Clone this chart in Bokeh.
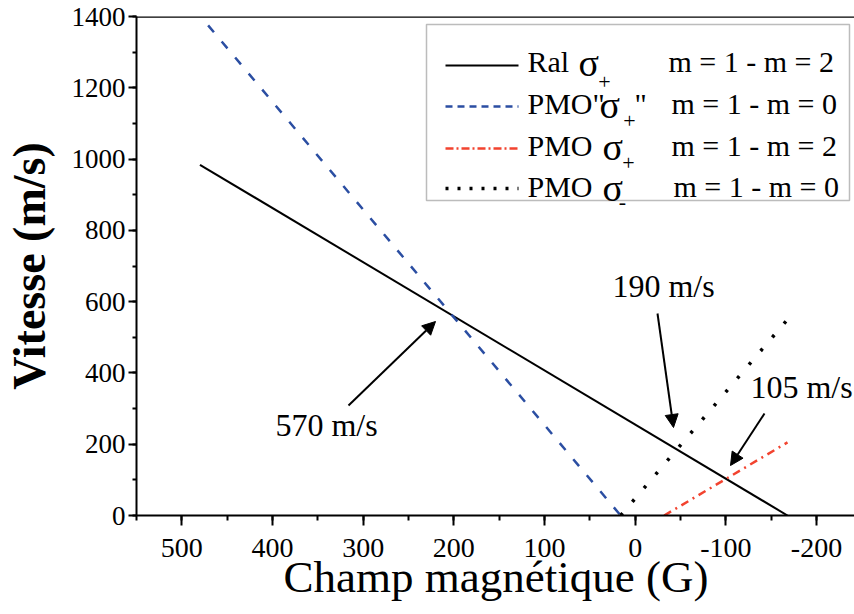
from bokeh.plotting import figure
from bokeh.models import (Range1d, SingleIntervalTicker, Label, Arrow,
                          NormalHead, BoxAnnotation, Span)
from bokeh.embed import file_html
from bokeh.resources import INLINE

# ---------------- data ----------------
ral_x = [480, -168]
ral_y = [984, 0]
pmo_q_x = [471, 16]        # PMO "sigma+"  m=1 - m=0
pmo_q_y = [1375, 0]
pmo_p_x = [-32, -168]      # PMO sigma+  m=1 - m=2
pmo_p_y = [0, 205]
pmo_m_x = [16, -170]       # PMO sigma-  m=1 - m=0
pmo_m_y = [0, 556]

ann_text = ["570 m/s", "190 m/s", "105 m/s"]
neg_ticks = {-100: "-100", -200: "-200"}

# ---------------- layout ----------------
XR0, XR1 = 550, -243
YR0, YR1 = 0, 1400
FL, FT, FW, FH = 135, 16, 719, 499
FONT = "Liberation Serif"
BLUE = "#2b4ea2"
RED = "#f2432f"

def X(sx):  # page px -> data x
    return XR0 + (sx - FL) / FW * (XR1 - XR0)

def Y(sy):  # page px -> data y
    return YR1 - (sy - FT) / FH * (YR1 - YR0)

p = figure(frame_width=FW, frame_height=FH, output_backend="svg", toolbar_location=None,
           x_range=Range1d(XR0, XR1), y_range=Range1d(YR0, YR1),
           min_border_left=FL, min_border_top=FT, min_border_right=0, min_border_bottom=99)
p.outline_line_color = None
p.xgrid.visible = False
p.ygrid.visible = False
p.background_fill_color = "white"
p.border_fill_color = "white"

# axes
p.xaxis.ticker = SingleIntervalTicker(interval=100, num_minor_ticks=2)
p.yaxis.ticker = SingleIntervalTicker(interval=200, num_minor_ticks=2)
p.xaxis.major_label_overrides = neg_ticks
for ax in (p.xaxis[0], p.yaxis[0]):
    ax.axis_line_width = 2
    ax.major_tick_line_width = 2
    ax.minor_tick_line_width = 2
    ax.major_tick_in = 0
    ax.minor_tick_in = 0
    ax.major_label_text_font = FONT
    ax.major_label_text_color = "black"
    ax.axis_label_text_font = FONT
    ax.axis_label_text_color = "black"
p.xaxis.major_tick_out = 10
p.xaxis.minor_tick_out = 5
p.yaxis.major_tick_out = 8
p.yaxis.minor_tick_out = 4
p.xaxis.major_label_text_font_size = "28px"
p.yaxis.major_label_text_font_size = "27px"
p.xaxis.major_label_standoff = 13
p.yaxis.major_label_standoff = 3
p.xaxis.axis_label = "Champ magnétique (G)"
p.xaxis.axis_label_text_font_size = "45px"
p.xaxis.axis_label_text_font_style = "normal"
p.xaxis.axis_label_standoff = -8
p.yaxis.axis_label = "Vitesse (m/s)"
p.yaxis.axis_label_text_font_size = "46px"
p.yaxis.axis_label_text_font_style = "bold"
p.yaxis.axis_label_standoff = 14

# top frame line
p.add_layout(Span(location=YR1, dimension="width", line_color="black", line_width=2.5))

# ---------------- series ----------------
p.line(ral_x, ral_y, line_color="black", line_width=2)
p.line(pmo_q_x, pmo_q_y, line_color=BLUE, line_width=2.5, line_dash="9 12")
p.line(pmo_p_x, pmo_p_y, line_color=RED, line_width=2.5, line_dash="8 5 2 5")
p.line(pmo_m_x, pmo_m_y, line_color="black", line_width=3.5, line_dash="3 15")

# ---------------- annotations ----------------
arrows = [((347, 405), (434, 321)), ((656, 313), (672, 427)), ((763, 413), (729, 465))]
for (s, e) in arrows:
    p.add_layout(Arrow(x_start=X(s[0]), y_start=Y(s[1]), x_end=X(e[0]), y_end=Y(e[1]),
                       line_color="black", line_width=2,
                       end=NormalHead(size=13, fill_color="black", line_color="black")))
ann_pos = [(325, 424), (662, 285), (800, 386)]
for t, (sx, sy) in zip(ann_text, ann_pos):
    p.add_layout(Label(x=X(sx), y=Y(sy), text=t, text_font=FONT, text_font_size="32px",
                       text_align="center", text_baseline="middle", text_color="black"))

# ---------------- legend ----------------
p.add_layout(BoxAnnotation(left=X(425), right=X(848), top=Y(24), bottom=Y(200),
                           fill_color="white", fill_alpha=1.0, level="underlay",
                           line_color="#222222", line_width=1.5))
rows_y = [65, 106, 148, 188]
styles = [("black", 2, None), (BLUE, 2.5, "7 5"), (RED, 2.5, "8 3 2 3"), ("black", 3.5, "3 9")]
for ry, (c, w, d) in zip(rows_y, styles):
    kw = dict(line_color=c, line_width=w)
    if d:
        kw["line_dash"] = d
    r = p.line([X(444), X(517)], [Y(ry), Y(ry)], **kw)
    r.level = "overlay"

def lab(sx, sy, t, size="30px", align="left"):
    p.add_layout(Label(x=X(sx), y=Y(sy), text=t, text_font=FONT, text_font_size=size,
                       text_align=align, text_baseline="middle", text_color="black"))

# row 1
lab(526, 61, "Ral")
lab(577, 62, "σ", "38px")
lab(603, 81, "+", "22px", "center")
lab(667, 61, "m = 1 - m = 2")
# row 2
lab(526, 103, 'PMO"')
lab(598, 104, "σ", "38px")
lab(628, 120, "+", "22px", "center")
lab(633, 103, '"')
lab(670, 103, "m = 1 - m = 0")
# row 3
lab(526, 145, "PMO")
lab(601, 146, "σ", "38px")
lab(627, 162, "+", "22px", "center")
lab(670, 145, "m = 1 - m = 2")
# row 4
lab(526, 186, "PMO")
lab(601, 187, "σ", "38px")
lab(621, 201, "-", "22px", "center")
lab(672, 186, "m = 1 - m = 0")

open("out.html", "w").write(file_html(p, INLINE))
